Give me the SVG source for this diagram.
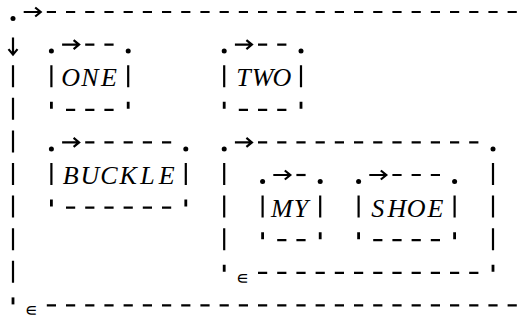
<svg xmlns="http://www.w3.org/2000/svg" width="529" height="325" viewBox="0 0 529 325">
<style>
.ln{stroke:#000;stroke-width:2.2;fill:none}
.ds{stroke:#000;stroke-width:2.2;fill:none;stroke-dasharray:9.2 10}
.tk{stroke:#000;stroke-width:2.8;fill:none}
.dt{fill:#000}
.lbl{font-family:"Liberation Serif","DejaVu Serif",serif;font-style:italic;font-size:26px;fill:#000;text-anchor:middle}
.eps{font-family:"DejaVu Sans",sans-serif;font-size:18px;fill:#000;text-anchor:middle}
</style>
<rect width="529" height="325" fill="#fff"/>
<g id="outer">
  <circle class="dt" cx="13" cy="18.5" r="2.5"/>
  <path class="ln" d="M23.7 12H40.7M35.2 7.5L40.7 12L35.2 16.5"/>
  <line class="ds" x1="46.8" y1="12" x2="516.8" y2="12"/>
  <path class="ln" d="M13 37.6V54.6M8.5 49.1L13 54.6L17.5 49.1"/>
  <path class="ln" d="M13 65.2V87.2M13 97.8V119.8M13 130.4V152.4M13 163V185M13 195.6V217.6M13 228.2V250.2M13 260.8V282.8"/>
  <path class="tk" d="M13 297.4V304.4"/>
  <text class="eps" x="31.2" y="316.4">∊</text>
  <line class="ds" x1="46.8" y1="305.4" x2="516.8" y2="305.4"/>
</g>
<g id="one">
  <circle class="dt" cx="51.4" cy="51.1" r="2.5"/>
  <circle class="dt" cx="128.2" cy="51.1" r="2.5"/>
  <path class="ln" d="M62.1 44.6H79.1M73.6 40.1L79.1 44.6L73.6 49.1"/>
  <line class="ds" x1="85.2" y1="44.6" x2="113.6" y2="44.6"/>
  <path class="ln" d="M51.4 65.2V87.2M128.2 65.2V87.2"/>
  <text class="lbl" x="70.6 89.8 109" y="86.2">ONE</text>
  <path class="tk" d="M51.4 101.8V108.8M128.2 101.8V108.8"/>
  <line class="ds" x1="66" y1="109.8" x2="113.6" y2="109.8"/>
</g>
<g id="two">
  <circle class="dt" cx="224.2" cy="51.1" r="2.5"/>
  <circle class="dt" cx="301" cy="51.1" r="2.5"/>
  <path class="ln" d="M234.9 44.6H251.9M246.4 40.1L251.9 44.6L246.4 49.1"/>
  <line class="ds" x1="258" y1="44.6" x2="286.4" y2="44.6"/>
  <path class="ln" d="M224.2 65.2V87.2M301 65.2V87.2"/>
  <text class="lbl" x="243.4 262.6 281.8" y="86.2">TWO</text>
  <path class="tk" d="M224.2 101.8V108.8M301 101.8V108.8"/>
  <line class="ds" x1="238.8" y1="109.8" x2="286.4" y2="109.8"/>
</g>
<g id="buckle">
  <circle class="dt" cx="51.4" cy="148.9" r="2.5"/>
  <circle class="dt" cx="185.8" cy="148.9" r="2.5"/>
  <path class="ln" d="M62.1 142.4H79.1M73.6 137.9L79.1 142.4L73.6 146.9"/>
  <line class="ds" x1="85.2" y1="142.4" x2="171.2" y2="142.4"/>
  <path class="ln" d="M51.4 163V185M185.8 163V185"/>
  <text class="lbl" x="70.6 89.8 109 128.2 147.4 166.6" y="184">BUCKLE</text>
  <path class="tk" d="M51.4 199.6V206.6M185.8 199.6V206.6"/>
  <line class="ds" x1="66" y1="207.6" x2="171.2" y2="207.6"/>
</g>
<g id="group">
  <circle class="dt" cx="224.2" cy="148.9" r="2.5"/>
  <circle class="dt" cx="493" cy="148.9" r="2.5"/>
  <path class="ln" d="M234.9 142.4H251.9M246.4 137.9L251.9 142.4L246.4 146.9"/>
  <line class="ds" x1="258" y1="142.4" x2="478.4" y2="142.4"/>
  <path class="ln" d="M224.2 163V185M224.2 195.6V217.6M224.2 228.2V250.2M493 163V185M493 195.6V217.6M493 228.2V250.2"/>
  <path class="tk" d="M224.2 264.8V271.8M493 264.8V271.8"/>
  <text class="eps" x="242.4" y="283.8">∊</text>
  <line class="ds" x1="258" y1="272.8" x2="478.4" y2="272.8"/>
</g>
<g id="my">
  <circle class="dt" cx="262.6" cy="181.5" r="2.5"/>
  <circle class="dt" cx="320.2" cy="181.5" r="2.5"/>
  <path class="ln" d="M273.3 175H290.3M284.8 170.5L290.3 175L284.8 179.5"/>
  <line class="ds" x1="296.4" y1="175" x2="305.6" y2="175"/>
  <path class="ln" d="M262.6 195.6V217.6M320.2 195.6V217.6"/>
  <text class="lbl" x="281.8 301" y="216.6">MY</text>
  <path class="tk" d="M262.6 232.2V239.2M320.2 232.2V239.2"/>
  <line class="ds" x1="277.2" y1="240.2" x2="305.6" y2="240.2"/>
</g>
<g id="shoe">
  <circle class="dt" cx="358.6" cy="181.5" r="2.5"/>
  <circle class="dt" cx="454.6" cy="181.5" r="2.5"/>
  <path class="ln" d="M369.3 175H386.3M380.8 170.5L386.3 175L380.8 179.5"/>
  <line class="ds" x1="392.4" y1="175" x2="440" y2="175"/>
  <path class="ln" d="M358.6 195.6V217.6M454.6 195.6V217.6"/>
  <text class="lbl" x="377.8 397 416.2 435.4" y="216.6">SHOE</text>
  <path class="tk" d="M358.6 232.2V239.2M454.6 232.2V239.2"/>
  <line class="ds" x1="373.2" y1="240.2" x2="440" y2="240.2"/>
</g>
<g id="connectors"></g>
</svg>
